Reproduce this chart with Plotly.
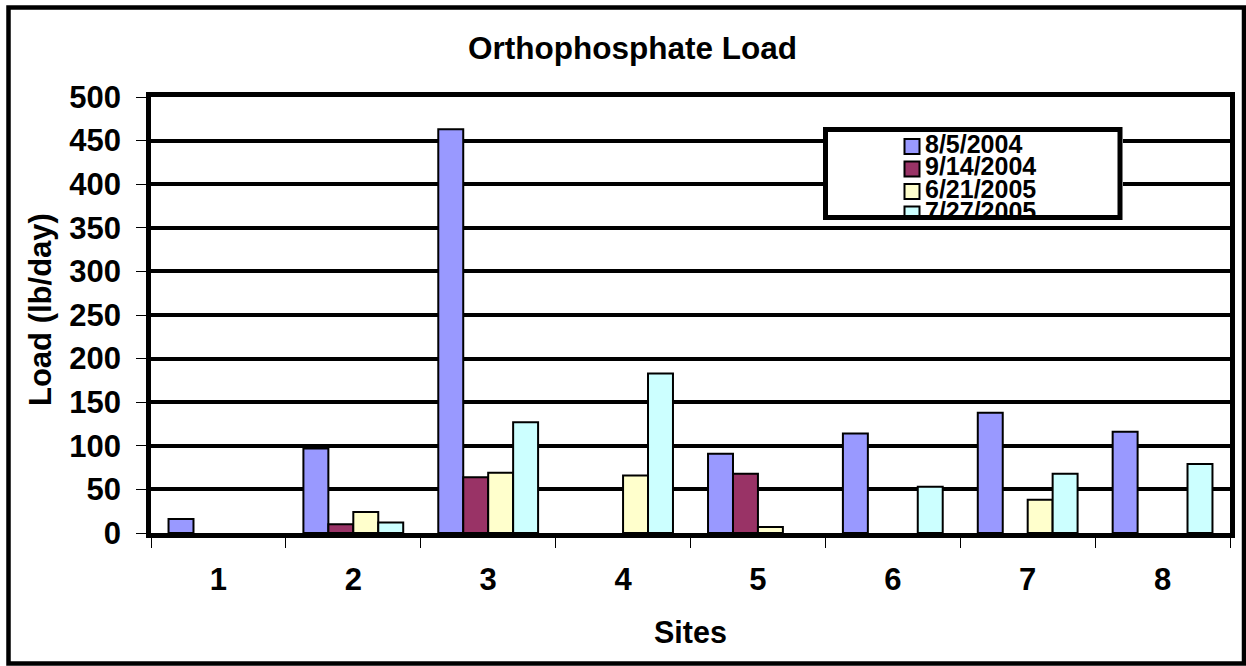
import plotly.graph_objects as go

# ---------------- data ----------------
sites = ["1", "2", "3", "4", "5", "6", "7", "8"]
dates = ["8/5/2004", "9/14/2004", "6/21/2005", "7/27/2005"]
load_2004_08_05 = [16, 97, 463, None, 91, 114, 138, 116]
load_2004_09_14 = [None, 10, 64, None, 68, None, None, None]
load_2005_06_21 = [None, 24, 69, 66, 7, None, 38, None]
load_2005_07_27 = [None, 12, 127, 183, None, 53, 68, 79]
series = [load_2004_08_05, load_2004_09_14, load_2005_06_21, load_2005_07_27]
colors = ["#9999FF", "#993366", "#FFFFCC", "#CCFFFF"]
y_ticks = list(range(0, 501, 50))

# ---------------- layout geometry (pixels) ----------------
W, H = 1246, 666
L, R, T, B = 151, 1230, 97, 533


def px(x):
    return (x - L) / (R - L)


def py(y):
    return (B - y) / (B - T)


FONT = "Arial, Liberation Sans, sans-serif"

fig = go.Figure()

for name, vals, col in zip(dates, series, colors):
    fig.add_trace(go.Bar(
        x=sites, y=vals, name=name,
        marker=dict(color=col, line=dict(color="black", width=2)),
        showlegend=False, hoverinfo="skip",
    ))

# ---------------- custom legend in an overlay subplot (clipped like the original) ----
LX0, LX1, LY0, LY1 = 823, 1123, 127, 218
leg_first_y, leg_step = 146.5, 22.5
leg_y = [leg_first_y + i * leg_step for i in range(len(dates))]
fig.add_trace(go.Scatter(
    x=[LX0, LX1, LX1, LX0, LX0], y=[LY1, LY1, LY0, LY0, LY1],
    fill="toself", fillcolor="white", mode="lines", line=dict(width=0),
    xaxis="x2", yaxis="y2", showlegend=False, hoverinfo="skip",
))
fig.add_trace(go.Scatter(
    x=[912] * len(dates), y=leg_y, mode="markers",
    marker=dict(symbol="square", size=15, color=colors,
                line=dict(color="black", width=2)),
    cliponaxis=True, xaxis="x2", yaxis="y2", showlegend=False, hoverinfo="skip",
))
fig.add_trace(go.Scatter(
    x=[925] * len(dates), y=leg_y, mode="text", text=dates,
    textposition="middle right",
    textfont=dict(family=FONT, size=25, color="black", weight="bold"),
    cliponaxis=True, xaxis="x2", yaxis="y2", showlegend=False, hoverinfo="skip",
))

fig.update_layout(
    width=W, height=H,
    margin=dict(l=L, r=W - R, t=T, b=H - B, pad=0),
    paper_bgcolor="white", plot_bgcolor="white",
    barmode="group", bargap=0.26, bargroupgap=0,
    showlegend=False,
    xaxis=dict(
        type="category", range=[-0.5, 7.5],
        showline=True, linecolor="black", linewidth=4.5, mirror=True,
        ticks="outside", tickson="boundaries", ticklen=10, tickwidth=1,
        tickcolor="black", showgrid=False, ticklabelstandoff=15,
        tickfont=dict(family=FONT, size=31, color="black", weight="bold"),
    ),
    yaxis=dict(
        range=[0, 500], tickvals=y_ticks,
        showgrid=True, gridcolor="black", gridwidth=4,
        showline=True, linecolor="black", linewidth=4.5, mirror=True,
        zeroline=False,
        ticks="outside", ticklen=10, tickwidth=1, tickcolor="black",
        ticklabelstandoff=9,
        tickfont=dict(family=FONT, size=31, color="black", weight="bold"),
    ),
    xaxis2=dict(domain=[px(LX0), px(LX1)], range=[LX0, LX1], visible=False,
                anchor="y2", fixedrange=True),
    yaxis2=dict(domain=[py(LY1), py(LY0)], range=[LY1, LY0], visible=False,
                anchor="x2", fixedrange=True),
    shapes=[
        dict(type="rect", xref="paper", yref="paper",
             x0=px(825.5), x1=px(1120), y0=py(217.5), y1=py(129.5),
             line=dict(color="black", width=5), layer="above"),
        dict(type="rect", xref="paper", yref="paper",
             x0=px(8.5), x1=px(1244), y0=py(663.5), y1=py(7.5),
             line=dict(color="black", width=4.5), layer="above"),
    ],
    annotations=[
        dict(text="Orthophosphate Load", xref="paper", yref="paper",
             x=px(632), y=py(48), showarrow=False, xanchor="center", yanchor="middle",
             font=dict(family=FONT, size=31.5, color="black", weight="bold")),
        dict(text="Sites", xref="paper", yref="paper",
             x=px(690), y=py(632), showarrow=False, xanchor="center", yanchor="middle",
             font=dict(family=FONT, size=30.5, color="black", weight="bold")),
        dict(text="Load (lb/day)", xref="paper", yref="paper", textangle=-90,
             x=px(40), y=py(310), showarrow=False, xanchor="center", yanchor="middle",
             font=dict(family=FONT, size=31, color="black", weight="bold")),
    ],
)

fig.write_html("out.html", config={"displayModeBar": False},
               post_script="document.body.style.margin='0';")
